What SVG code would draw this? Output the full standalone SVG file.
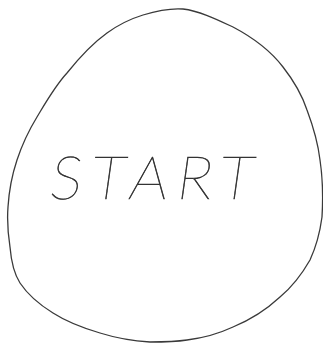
<svg xmlns="http://www.w3.org/2000/svg" width="323" height="346" viewBox="0 0 323 346">
<style>
.outline{fill:none;stroke:#3a3a3a;stroke-width:1.3;stroke-linejoin:round;stroke-linecap:round}
.label{font-family:Lato,"Liberation Sans",sans-serif;font-weight:100;font-size:60px;fill:#222;stroke:#333;stroke-width:0.6}
</style>
<rect width="323" height="346" fill="#fff"/>
<g id="start">
<path class="outline" d="M183,9 C200,11 218,20 233,27 C252,37 270,50 283,67 C294,81 302,95 307,110 C313,126 318,143 320,160 C323,180 323,200 322,217 C320,232 316,247 310,260 C302,274 292,287 280,297 C266,310 250,320 233,327 C218,334 203,338 187,340 C174,342 162,342 150,342 C133,341 116,338 100,333 C83,328 67,322 53,313 C40,305 28,295 20,283 C13,272 11,259 10,247 C8,234 7,220 8,207 C9,191 12,175 17,160 C22,145 29,130 37,117 C46,102 55,86 67,73 C79,58 93,43 107,33 C118,25 130,19 143,15 C156,11 170,8 183,9 Z"/>
<text class="label" x="48" y="199" textLength="203" lengthAdjust="spacing" transform="skewX(-8) translate(28,0)">START</text>
</g>
</svg>
